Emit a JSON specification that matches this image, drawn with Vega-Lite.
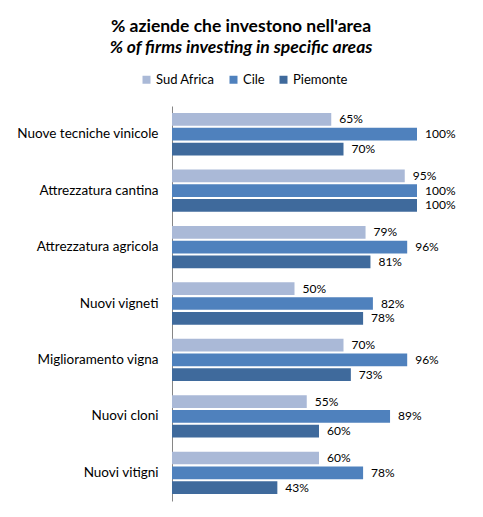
{
  "$schema": "https://vega.github.io/schema/vega-lite/v6.json",
  "autosize": "none",
  "padding": {"left": 172, "top": 106, "right": 17, "bottom": 16},
  "width": 294,
  "height": 395,
  "background": "white",
  "title": {
    "text": "% aziende che investono nell'area",
    "subtitle": "% of firms investing in specific areas",
    "anchor": "middle",
    "dx": -78,
    "offset": 17,
    "font": "Lato",
    "fontSize": 17.5,
    "fontWeight": "bold",
    "color": "black",
    "subtitleFont": "Lato",
    "subtitleFontSize": 17.5,
    "subtitleFontWeight": "bold",
    "subtitleFontStyle": "italic",
    "subtitleColor": "black",
    "subtitlePadding": 3
  },
  "data": {
    "values": [
      {"area": "Nuove tecniche vinicole", "paese": "Sud Africa", "pct": 0.65},
      {"area": "Nuove tecniche vinicole", "paese": "Cile", "pct": 1.0},
      {"area": "Nuove tecniche vinicole", "paese": "Piemonte", "pct": 0.70},
      {"area": "Attrezzatura cantina", "paese": "Sud Africa", "pct": 0.95},
      {"area": "Attrezzatura cantina", "paese": "Cile", "pct": 1.0},
      {"area": "Attrezzatura cantina", "paese": "Piemonte", "pct": 1.0},
      {"area": "Attrezzatura agricola", "paese": "Sud Africa", "pct": 0.79},
      {"area": "Attrezzatura agricola", "paese": "Cile", "pct": 0.96},
      {"area": "Attrezzatura agricola", "paese": "Piemonte", "pct": 0.81},
      {"area": "Nuovi vigneti", "paese": "Sud Africa", "pct": 0.50},
      {"area": "Nuovi vigneti", "paese": "Cile", "pct": 0.82},
      {"area": "Nuovi vigneti", "paese": "Piemonte", "pct": 0.78},
      {"area": "Miglioramento vigna", "paese": "Sud Africa", "pct": 0.70},
      {"area": "Miglioramento vigna", "paese": "Cile", "pct": 0.96},
      {"area": "Miglioramento vigna", "paese": "Piemonte", "pct": 0.73},
      {"area": "Nuovi cloni", "paese": "Sud Africa", "pct": 0.55},
      {"area": "Nuovi cloni", "paese": "Cile", "pct": 0.89},
      {"area": "Nuovi cloni", "paese": "Piemonte", "pct": 0.60},
      {"area": "Nuovi vitigni", "paese": "Sud Africa", "pct": 0.60},
      {"area": "Nuovi vitigni", "paese": "Cile", "pct": 0.78},
      {"area": "Nuovi vitigni", "paese": "Piemonte", "pct": 0.43}
    ]
  },
  "encoding": {
    "y": {
      "field": "area",
      "type": "nominal",
      "sort": null,
      "scale": {"paddingInner": 0.25, "paddingOuter": 0.125},
      "axis": {
        "title": null,
        "ticks": false,
        "domainColor": "#868686",
        "labelPadding": 14,
        "labelFont": "Lato",
        "labelFontSize": 13.5,
        "labelColor": "black",
        "labelLimit": 200
      }
    },
    "yOffset": {
      "field": "paese",
      "type": "nominal",
      "sort": ["Sud Africa", "Cile", "Piemonte"],
      "scale": {"paddingInner": 0.14}
    },
    "x": {
      "field": "pct",
      "type": "quantitative",
      "scale": {"domain": [0, 1.2]},
      "axis": null
    }
  },
  "layer": [
    {
      "mark": {"type": "bar"},
      "encoding": {
        "color": {
          "field": "paese",
          "type": "nominal",
          "sort": ["Sud Africa", "Cile", "Piemonte"],
          "scale": {
            "domain": ["Sud Africa", "Cile", "Piemonte"],
            "range": ["#AAB9D7", "#4F81BD", "#3F6A9C"]
          },
          "legend": {
            "title": null,
            "orient": "none",
            "direction": "horizontal",
            "legendX": -32,
            "legendY": -33,
            "symbolType": "square",
            "symbolSize": 64,
            "symbolStrokeWidth": 0,
            "labelFont": "Lato",
            "labelFontSize": 13,
            "labelColor": "black",
            "labelOffset": 3,
            "columnPadding": 12
          }
        }
      }
    },
    {
      "mark": {
        "type": "text",
        "align": "left",
        "baseline": "middle",
        "dx": 8,
        "font": "Lato",
        "fontSize": 12,
        "color": "black"
      },
      "encoding": {
        "text": {"field": "pct", "type": "quantitative", "format": ".0%"}
      }
    }
  ],
  "config": {
    "view": {"stroke": null}
  }
}
